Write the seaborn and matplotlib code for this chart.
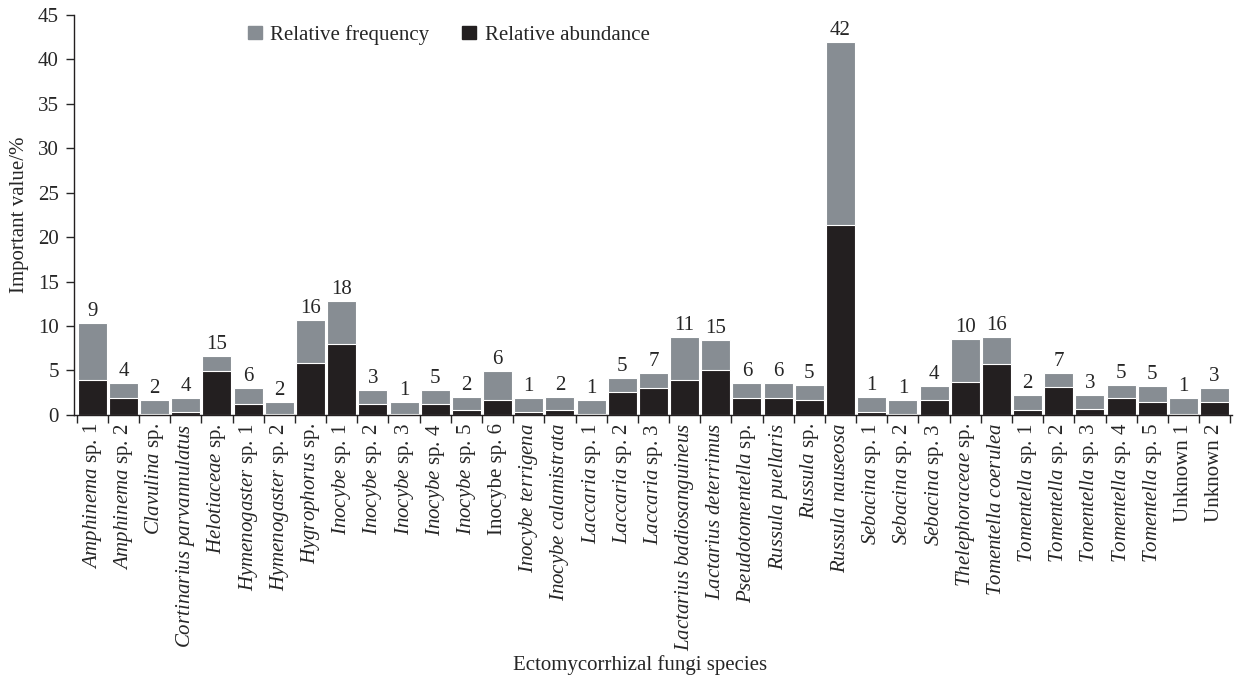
import numpy as np
import pandas as pd
import matplotlib
matplotlib.use("Agg")
import matplotlib.pyplot as plt
import seaborn as sns
from matplotlib.patches import Patch

species = [
    r"$\mathit{Amphinema}$ sp. 1", r"$\mathit{Amphinema}$ sp. 2", r"$\mathit{Clavulina}$ sp.",
    r"$\mathit{Cortinarius\ parvannulatus}$", r"$\mathit{Helotiaceae}$ sp.",
    r"$\mathit{Hymenogaster}$ sp. 1", r"$\mathit{Hymenogaster}$ sp. 2", r"$\mathit{Hygrophorus}$ sp.",
    r"$\mathit{Inocybe}$ sp. 1", r"$\mathit{Inocybe}$ sp. 2", r"$\mathit{Inocybe}$ sp. 3",
    r"$\mathit{Inocybe}$ sp. 4", r"$\mathit{Inocybe}$ sp. 5", "Inocybe sp. 6",
    r"$\mathit{Inocybe\ terrigena}$", r"$\mathit{Inocybe\ calamistrata}$",
    r"$\mathit{Laccaria}$ sp. 1", r"$\mathit{Laccaria}$ sp. 2", r"$\mathit{Laccaria}$ sp. 3",
    r"$\mathit{Lactarius\ badiosanguineus}$", r"$\mathit{Lactarius\ deterrimus}$",
    r"$\mathit{Pseudotomentella}$ sp.", r"$\mathit{Russula\ puellaris}$", r"$\mathit{Russula}$ sp.",
    r"$\mathit{Russula\ nauseosa}$", r"$\mathit{Sebacina}$ sp. 1", r"$\mathit{Sebacina}$ sp. 2",
    r"$\mathit{Sebacina}$ sp. 3", r"$\mathit{Thelephoraceae}$ sp.", r"$\mathit{Tomentella\ coerulea}$",
    r"$\mathit{Tomentella}$ sp. 1", r"$\mathit{Tomentella}$ sp. 2", r"$\mathit{Tomentella}$ sp. 3",
    r"$\mathit{Tomentella}$ sp. 4", r"$\mathit{Tomentella}$ sp. 5", "Unknown 1", "Unknown 2",
]

rel_abundance = [3.95, 1.87, 0.11, 0.34, 4.90, 1.27, 0.05, 5.88, 7.94, 1.27, 0.05, 1.27, 0.52,
                 1.64, 0.34, 0.52, 0.11, 2.59, 3.04, 3.94, 5.10, 1.87, 1.87, 1.64, 21.37,
                 0.34, 0.11, 1.64, 3.75, 5.70, 0.52, 3.18, 0.71, 1.87, 1.46, 0.11, 1.46]

rel_frequency = [6.40, 1.73, 1.58, 1.57, 1.77, 1.80, 1.45, 4.81, 4.88, 1.58, 1.45, 1.58, 1.54,
                 3.31, 1.57, 1.54, 1.58, 1.61, 1.72, 4.83, 3.34, 1.73, 1.73, 1.73, 20.63,
                 1.72, 1.58, 1.58, 4.83, 3.07, 1.76, 1.58, 1.57, 1.54, 1.76, 1.80, 1.58]

counts = [9, 4, 2, 4, 15, 6, 2, 16, 18, 3, 1, 5, 2, 6, 1, 2, 1, 5, 7, 11, 15, 6, 6, 5, 42,
          1, 1, 4, 10, 16, 2, 7, 3, 5, 5, 1, 3]

df = pd.DataFrame({"species": species, "abundance": rel_abundance, "frequency": rel_frequency})
df["total"] = df["abundance"] + df["frequency"]

grey = "#878d93"
black = "#231f20"
fs = 15

sns.set_style("ticks")
plt.rcParams["font.family"] = ["Liberation Serif", "DejaVu Serif"]
plt.rcParams["mathtext.fontset"] = "custom"
plt.rcParams["mathtext.rm"] = "Liberation Serif"
plt.rcParams["mathtext.it"] = "Liberation Serif:italic"

fig = plt.figure(figsize=(12.37, 6.79), dpi=100)
ax = fig.add_axes([0.0598, 0.389, 0.936, 0.589])

# grey total on bottom layer, black abundance drawn over it
sns.barplot(data=df, x="species", y="total", color=grey, width=0.93, saturation=1,
            edgecolor="white", linewidth=0.8, ax=ax)
sns.barplot(data=df, x="species", y="abundance", color=black, width=0.93, saturation=1,
            edgecolor="white", linewidth=0.8, ax=ax)

for i, (t, c) in enumerate(zip(df["total"], counts)):
    ax.text(i, t + 0.2, str(c), ha="center", va="bottom", fontsize=fs)

ax.set_ylim(0, 45)
ax.set_xlim(-0.587, 36.55)
ax.set_yticks(range(0, 46, 5))
ax.set_xticks(range(len(species)))
ax.set_xticklabels(species, rotation=90, fontsize=fs)
ax.set_xticks(np.arange(-0.5, len(species)), minor=True)
ax.tick_params(axis="x", which="major", length=0, pad=6)
ax.tick_params(axis="x", which="minor", length=6, width=1, direction="out")
ax.tick_params(axis="y", labelsize=fs, length=6, width=1, direction="out", pad=5)
for s in ["left", "bottom"]:
    ax.spines[s].set_linewidth(1)
    ax.spines[s].set_color("#231f20")
sns.despine(ax=ax)

ax.set_xlabel("Ectomycorrhizal fungi species", fontsize=fs)
ax.xaxis.set_label_coords(0.489, -0.60)
ax.set_ylabel("Important value/%", fontsize=fs, labelpad=6)

handles = [Patch(color=grey, label="Relative frequency"), Patch(color=black, label="Relative abundance")]
ax.legend(handles=handles, ncol=2, frameon=False, fontsize=fs, loc="upper left",
          bbox_to_anchor=(0.150, 0.975), borderaxespad=0, borderpad=0,
          handlelength=0.67, handleheight=0.6, columnspacing=1.6, handletextpad=0.4)

fig.savefig("out.png", dpi=100)
